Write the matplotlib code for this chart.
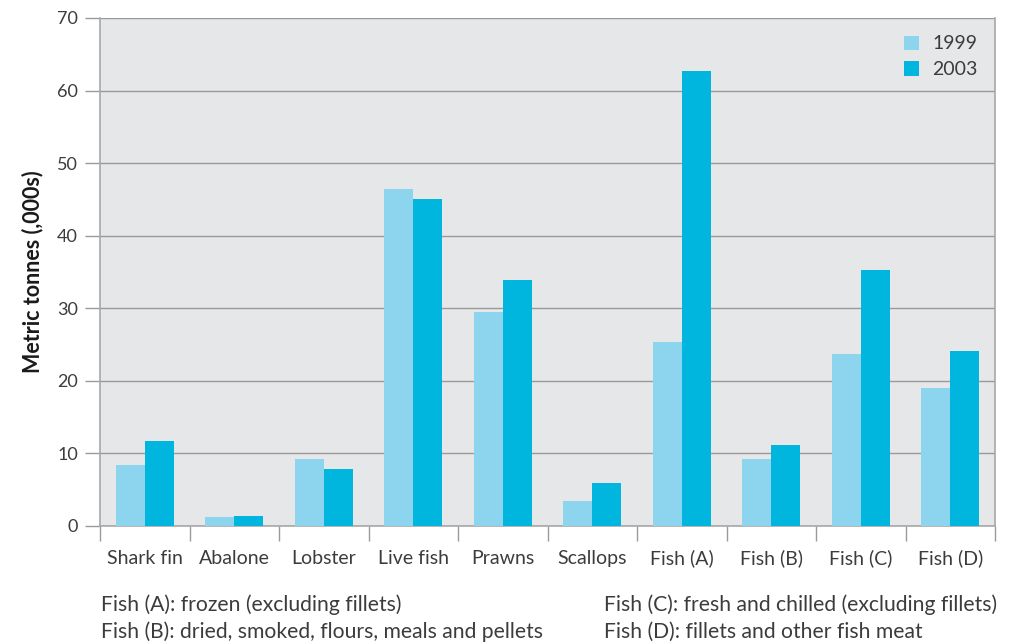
import matplotlib
matplotlib.use("Agg")
import matplotlib.pyplot as plt
import numpy as np

plt.rcParams['font.family'] = ['Lato', 'DejaVu Sans']

categories = ["Shark fin", "Abalone", "Lobster", "Live fish", "Prawns",
              "Scallops", "Fish (A)", "Fish (B)", "Fish (C)", "Fish (D)"]
values_1999 = [8.4, 1.2, 9.2, 46.4, 29.5, 3.4, 25.4, 9.2, 23.7, 19.0]
values_2003 = [11.7, 1.4, 7.9, 45.1, 33.9, 5.9, 62.7, 11.2, 35.3, 24.1]
series_labels = ["1999", "2003"]
yticks = [0, 10, 20, 30, 40, 50, 60, 70]
footnotes_left = ["Fish (A): frozen (excluding fillets)",
                  "Fish (B): dried, smoked, flours, meals and pellets"]
footnotes_right = ["Fish (C): fresh and chilled (excluding fillets)",
                   "Fish (D): fillets and other fish meat"]

c1999 = "#8dd5ee"
c2003 = "#00b5de"
text_col = "#3c3c3c"
grid_col = "#9a9a9a"

fig = plt.figure(figsize=(10.09, 6.44), dpi=100)
W, H = 1009, 644
ax = fig.add_axes([100 / W, (H - 526) / H, 895 / W, 508 / H])
ax.set_facecolor("#e6e7e9")

x = np.arange(len(categories))
bw = 0.325
ax.bar(x - bw / 2, values_1999, bw, color=c1999, label=series_labels[0], zorder=3)
ax.bar(x + bw / 2, values_2003, bw, color=c2003, label=series_labels[1], zorder=3)

ax.set_xlim(-0.5, len(categories) - 0.5)
ax.set_ylim(0, 70)

ax.set_yticks(yticks)
ax.set_yticklabels([str(v) for v in yticks], fontsize=13, color=text_col)
ax.tick_params(axis='y', length=11, width=1, color=grid_col, pad=5)
ax.yaxis.grid(True, color=grid_col, linewidth=1.0, zorder=1)

ax.set_xticks(x)
ax.set_xticklabels(categories, fontsize=14, color=text_col)
ax.tick_params(axis='x', which='major', length=0, pad=17)
ax.set_xticks(np.arange(-0.5, len(categories)), minor=True)
ax.tick_params(axis='x', which='minor', length=11, width=1, color=grid_col)

for side in ["left", "bottom", "right"]:
    ax.spines[side].set_color("#a8a8a8")
    ax.spines[side].set_linewidth(1.2)
ax.spines["top"].set_visible(False)

ax.set_ylabel("Metric tonnes (,000s)", fontsize=15.5, fontweight='bold',
              color="#1a1a1a", labelpad=10)

leg = ax.legend(loc="upper right", frameon=False, fontsize=14,
                handlelength=0.75, handleheight=0.75, handletextpad=0.7,
                labelspacing=0.45, borderaxespad=0.5)
for t in leg.get_texts():
    t.set_color(text_col)

for i, (l, r) in enumerate(zip(footnotes_left, footnotes_right)):
    yy = 1 - (605 + i * 27) / H
    fig.text(101 / W, yy, l, fontsize=15.2, color=text_col, va='center')
    fig.text(604 / W, yy, r, fontsize=15.2, color=text_col, va='center')

fig.savefig("out.png", dpi=100, facecolor="white")
